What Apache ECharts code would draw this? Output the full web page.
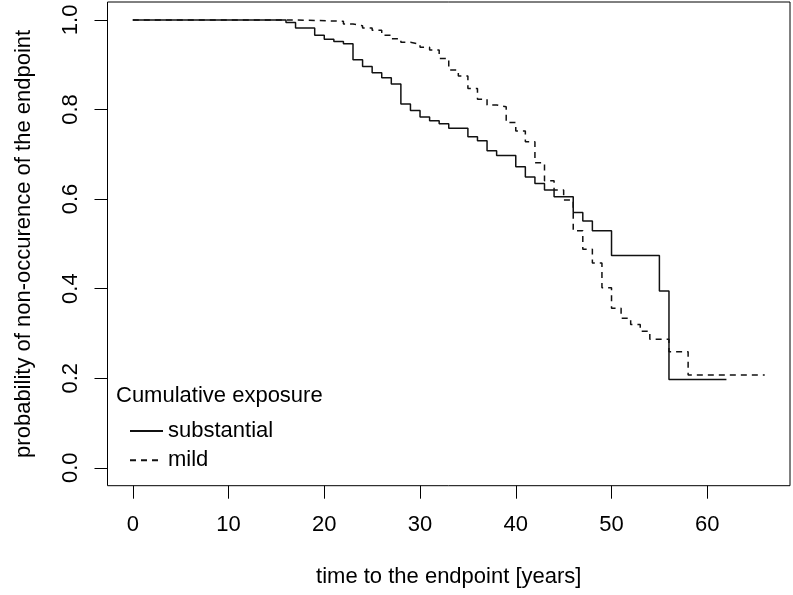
<!DOCTYPE html>
<html>
<head>
<meta charset="utf-8">
<script src="https://cdn.jsdelivr.net/npm/echarts@6/dist/echarts.min.js"></script>
<style>
html,body{margin:0;padding:0;background:#fff;}
#chart{width:793px;height:595px;}
</style>
</head>
<body>
<div id="chart"></div>
<script>
const xTicks = [0, 10, 20, 30, 40, 50, 60];
const yTicks = [0, 0.2, 0.4, 0.6, 0.8, 1.0];

const substantialTime = [0,16,17,19,20,21,22,23,24,25,26,27,28,29,30,31,32,33,35,36,37,38,40,41,42,43,44,46,47,48,50,55,56,62];
const substantialSurv = [1,0.994,0.982,0.966,0.957,0.952,0.947,0.911,0.896,0.882,0.871,0.857,0.812,0.798,0.783,0.775,0.768,0.758,0.739,0.730,0.708,0.697,0.672,0.649,0.635,0.620,0.605,0.570,0.551,0.529,0.474,0.395,0.197,0.197];

const mildTime = [0,17,22,23,24,25,26,27,28,29,30,31,32,33,34,35,36,37,38,39,40,41,42,43,44,45,46,47,48,49,50,51,52,53,54,56,58,66];
const mildSurv = [1,0.997,0.991,0.987,0.982,0.977,0.966,0.958,0.950,0.946,0.939,0.933,0.914,0.888,0.875,0.847,0.823,0.810,0.806,0.771,0.752,0.728,0.681,0.641,0.620,0.598,0.529,0.488,0.457,0.402,0.356,0.334,0.320,0.305,0.287,0.259,0.207,0.207];

const FONT = 'Liberation Sans';
const FS = 22;

const chart = echarts.init(document.getElementById('chart'), null, {renderer: 'canvas'});
chart.setOption({
  animation: false,
  backgroundColor: '#fff',
  textStyle: {fontFamily: FONT},
  title: {
    text: 'Cumulative exposure',
    left: 116, top: 383,
    padding: 0,
    textStyle: {fontFamily: FONT, fontSize: FS, fontWeight: 'normal', color: '#000', lineHeight: 26}
  },
  legend: {
    orient: 'vertical',
    left: 129, top: 420,
    padding: 0,
    itemWidth: 33, itemHeight: 14,
    itemGap: 7.3,
    itemStyle: {opacity: 0},
    textStyle: {fontFamily: FONT, fontSize: FS, color: '#000', lineHeight: 22},
    data: ['substantial', 'mild']
  },
  grid: {
    left: 107.5, right: 3, top: 2, bottom: 109.3,
    show: true, borderColor: '#000', borderWidth: 1,
    containLabel: false, outerBoundsMode: 'none'
  },
  xAxis: {
    type: 'value',
    min: -2.64, max: 68.64,
    name: 'time to the endpoint [years]',
    nameLocation: 'middle',
    nameGap: 80,
    nameTextStyle: {fontFamily: FONT, fontSize: FS, color: '#000', lineHeight: 22, verticalAlign: 'top'},
    axisLine: {show: false, onZero: false},
    splitLine: {show: false},
    axisTick: {show: true, inside: false, length: 13, lineStyle: {color: '#000', width: 1}, customValues: xTicks},
    axisLabel: {show: true, margin: 28, fontFamily: FONT, fontSize: FS, color: '#000', lineHeight: 22,
      customValues: xTicks, formatter: v => String(Math.round(v))}
  },
  yAxis: {
    type: 'value',
    min: -0.04, max: 1.04,
    name: 'probability of non-occurence of the endpoint',
    nameLocation: 'middle',
    nameRotate: 90,
    nameGap: 71,
    nameTextStyle: {fontFamily: FONT, fontSize: FS, color: '#000', lineHeight: 26},
    axisLine: {show: false, onZero: false},
    splitLine: {show: false},
    axisTick: {show: true, inside: false, length: 13, lineStyle: {color: '#000', width: 1}, customValues: yTicks},
    axisLabel: {show: true, rotate: 90, margin: 26, fontFamily: FONT, fontSize: FS, color: '#000', lineHeight: 22,
      customValues: yTicks, formatter: v => v.toFixed(1)}
  },
  series: [
    {
      name: 'substantial',
      type: 'line',
      step: 'end',
      symbol: 'none',
      lineStyle: {color: '#111', width: 1.5, type: 'solid'},
      itemStyle: {color: '#111'},
      data: substantialTime.map((t, i) => [t, substantialSurv[i]])
    },
    {
      name: 'mild',
      type: 'line',
      step: 'end',
      symbol: 'none',
      lineStyle: {color: '#111', width: 1.5, type: [6, 5]},
      itemStyle: {color: '#111'},
      data: mildTime.map((t, i) => [t, mildSurv[i]])
    }
  ]
});
</script>
</body>
</html>
